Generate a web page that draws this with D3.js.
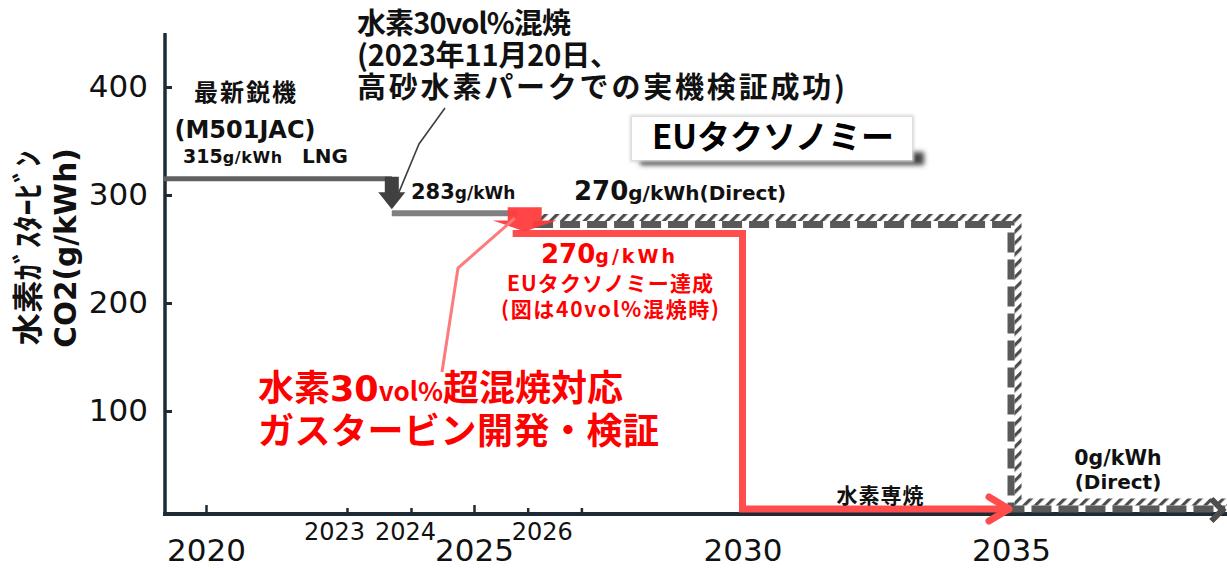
<!DOCTYPE html>
<html>
<head>
<meta charset="utf-8">
<script src="https://cdn.jsdelivr.net/npm/d3@7"></script>
<style>
  body { margin: 0; background: #fff; }
  svg { display: block; }
</style>
</head>
<body>
<svg id="chart" width="1227" height="569"></svg>
<script>
// CO2 emission intensity of hydrogen-fired gas turbines, g/kWh

const yTicks = [100, 200, 300, 400];
const majorYears = [2020, 2025, 2030, 2035];
const minorYears = [2023, 2024, 2026];
const longTickYears = [2020, 2025];
const shortTickYears = [2023, 2024, 2026, 2027];

// Latest LNG-fired model (M501JAC), then 30vol% hydrogen co-firing
const lngLine = [{ year: 2019.1, v: 315 }, { year: 2023.7, v: 315 }];
const cofireLine = [{ year: 2023.7, v: 283 }, { year: 2025.8, v: 283 }];
const cofireStep = { year: 2023.7, from: 315, to: 283 };
const taxonomyStep = { year: 2026, from: 283, to: 270 };

// Development path: 270 g/kWh (40vol% co-firing), then hydrogen-only firing
const hydrogenPath = [
  { year: 2025.72, v: 270 }, { year: 2030, v: 270 },
  { year: 2030, v: 0 }, { year: 2035, v: 0 }
];

// EU taxonomy threshold (direct emissions)
const taxonomyPath = [
  { year: 2026.1, v: 270 }, { year: 2035, v: 270 },
  { year: 2035, v: 0 }, { year: 2039, v: 0 }
];

const JP = '"Noto Sans CJK JP", sans-serif';
const LAT = '"DejaVu Sans", "Noto Sans CJK JP", sans-serif';
const AXIS = '#1c2b36';
const RED = '#ff0000';
const RED_LINE = '#ff4d4d';

// small year labels sit a little off their ticks so they do not collide
const minorLabelShift = { 2023: -13, 2024: -6, 2026: 14 };

const svg = d3.select('#chart');
const defs = svg.append('defs');

// Year scale: the drawing spaces the early years unevenly, so it is piecewise
const x = d3.scaleLinear()
  .domain([2019.1, 2020, 2023, 2024, 2025, 2035, 2039.05])
  .range([164, 206, 347, 411, 474, 1011, 1228]);
const y = d3.scaleLinear().domain([0, 440]).range([519, 43.8]);
const AXIS_Y = 514;
const AXIS_X = 165;

// levels sit just above the time axis when they reach zero
const lvl = (v, off) => Math.min(y(v) + off, AXIS_Y - 5);

// hatch pattern for the EU taxonomy band
const hatch = defs.append('pattern')
  .attr('id', 'hatch').attr('patternUnits', 'userSpaceOnUse')
  .attr('width', 8).attr('height', 8)
  .attr('patternTransform', 'rotate(45)');
hatch.append('rect').attr('width', 8).attr('height', 8).attr('fill', '#fff');
hatch.append('rect').attr('width', 3.2).attr('height', 8).attr('fill', '#4d4d4d');

const blur = defs.append('filter').attr('id', 'soft')
  .attr('x', '-20%').attr('y', '-50%').attr('width', '140%').attr('height', '200%');
blur.append('feGaussianBlur').attr('stdDeviation', 2.6);
const glow = defs.append('filter').attr('id', 'glow')
  .attr('x', '-20%').attr('y', '-50%').attr('width', '140%').attr('height', '200%');
glow.append('feGaussianBlur').attr('stdDeviation', 1.5);

// ---------- axes ----------
svg.append('line')
  .attr('x1', AXIS_X).attr('x2', AXIS_X).attr('y1', 33).attr('y2', AXIS_Y + 2)
  .attr('stroke', AXIS).attr('stroke-width', 3.5);
svg.append('line')
  .attr('x1', AXIS_X - 2).attr('x2', 1227).attr('y1', AXIS_Y).attr('y2', AXIS_Y)
  .attr('stroke', AXIS).attr('stroke-width', 4);

const yAxis = svg.append('g').attr('transform', `translate(${AXIS_X},0)`)
  .call(d3.axisLeft(y).tickValues(yTicks).tickSizeInner(-7).tickSizeOuter(0).tickPadding(17));
yAxis.select('.domain').remove();
yAxis.selectAll('.tick line').attr('stroke', AXIS).attr('stroke-width', 3);
yAxis.selectAll('.tick text')
  .attr('font-family', LAT).attr('font-size', 31).attr('fill', '#111');

function xTicks(years, len) {
  const g = svg.append('g').attr('transform', `translate(0,${AXIS_Y})`)
    .call(d3.axisBottom(x).tickValues(years).tickSizeInner(-len).tickSizeOuter(0).tickFormat(''));
  g.select('.domain').remove();
  g.selectAll('.tick line').attr('stroke', AXIS).attr('stroke-width', 2.5);
}
xTicks(longTickYears, 9);
xTicks(shortTickYears, 6);

function xLabels(years, size, pad, shift) {
  const g = svg.append('g').attr('transform', `translate(0,${AXIS_Y})`)
    .call(d3.axisBottom(x).tickValues(years).tickSize(0).tickPadding(pad).tickFormat(d3.format('d')));
  g.select('.domain').remove();
  g.selectAll('.tick text').attr('font-family', LAT).attr('font-size', size).attr('fill', '#111')
    .attr('dx', d => (shift && shift[d]) || 0);
}
xLabels(minorYears, 24, 9, minorLabelShift);
xLabels(majorYears, 31, 25);

// y-axis title
const yTitle = svg.append('g').attr('font-weight', 'bold').attr('fill', '#111');
yTitle.append('text')
  .attr('transform', 'translate(39,248) rotate(-90)')
  .attr('text-anchor', 'middle').attr('font-family', JP).attr('font-size', 31)
  .attr('textLength', 195).attr('lengthAdjust', 'spacingAndGlyphs')
  .text('水素ｶﾞｽﾀｰﾋﾞﾝ');
yTitle.append('text')
  .attr('transform', 'translate(76,248) rotate(-90)')
  .attr('text-anchor', 'middle').attr('font-family', LAT).attr('font-size', 29.5)
  .text('CO2(g/kWh)');

// ---------- EU taxonomy band ----------
const line = d3.line().x(d => d[0]).y(d => d[1]);
const taxPts = taxonomyPath.map(d => [x(d.year), lvl(d.v, -3)]);
svg.append('path')
  .attr('d', line(taxPts.map(([px, py]) => [px + 7, py - 7])))
  .attr('fill', 'none').attr('stroke', 'url(#hatch)').attr('stroke-width', 7)
  .attr('stroke-linejoin', 'miter');
svg.append('path')
  .attr('d', line(taxPts))
  .attr('fill', 'none').attr('stroke', '#595959').attr('stroke-width', 7)
  .attr('stroke-dasharray', '20 7').attr('stroke-linejoin', 'miter');
{
  const [ex, ey] = taxPts[taxPts.length - 1];
  svg.append('path')
    .attr('d', `M${ex - 14},${ey - 10}L${ex - 3},${ey + 1}L${ex - 14},${ey + 12}`)
    .attr('fill', 'none').attr('stroke', '#4d4d4d').attr('stroke-width', 6)
    .attr('stroke-linejoin', 'miter');
}

// ---------- LNG / co-firing steps ----------
svg.append('path')
  .attr('d', line(lngLine.map(d => [x(d.year), y(d.v)])))
  .attr('stroke', '#606060').attr('stroke-width', 5).attr('fill', 'none');
svg.append('path')
  .attr('d', line(cofireLine.map(d => [x(d.year), y(d.v)])))
  .attr('stroke', '#808080').attr('stroke-width', 6).attr('fill', 'none');

function blockArrow(cx, top, headTop, tip, shaftW, headW, fill, opacity) {
  const s = shaftW / 2, h = headW / 2;
  svg.append('path')
    .attr('d', `M${cx - s},${top}H${cx + s}V${headTop}H${cx + h}L${cx},${tip}L${cx - h},${headTop}H${cx - s}Z`)
    .attr('fill', fill).attr('opacity', opacity);
}
blockArrow(x(cofireStep.year), y(cofireStep.from) - 2, y(cofireStep.to) - 21,
  y(cofireStep.to) - 4, 14, 27, '#404040', 1);

// ---------- hydrogen development path ----------
const h2Pts = hydrogenPath.map(d => [x(d.year), lvl(d.v, 6)]);
svg.append('path')
  .attr('d', line(h2Pts))
  .attr('fill', 'none').attr('stroke', RED_LINE).attr('stroke-width', 7)
  .attr('stroke-linejoin', 'miter');
{
  const [ex, ey] = h2Pts[h2Pts.length - 1];
  svg.append('path')
    .attr('d', `M${ex - 22},${ey - 12}L${ex - 2},${ey}L${ex - 22},${ey + 12}`)
    .attr('fill', 'none').attr('stroke', RED_LINE).attr('stroke-width', 7)
    .attr('stroke-linecap', 'round').attr('stroke-linejoin', 'round');
}
blockArrow(x(taxonomyStep.year) - 3, y(taxonomyStep.from) - 6, y(taxonomyStep.to) - 7,
  y(taxonomyStep.to) + 4, 34, 64, '#ff3b3b', 0.95);

// ---------- leader lines ----------
svg.append('path')
  .attr('d', line([[445, 108], [419, 144], [x(cofireStep.year) + 5, y(cofireStep.to) - 16]]))
  .attr('fill', 'none').attr('stroke', '#404040').attr('stroke-width', 1.6);
svg.append('path')
  .attr('d', line([[442, 372], [458, 268], [x(taxonomyStep.year) - 13, y(taxonomyStep.to) - 9]]))
  .attr('fill', 'none').attr('stroke', '#ff7a7a').attr('stroke-width', 3);

// ---------- EU taxonomy title box ----------
svg.append('rect').attr('x', 640).attr('y', 152).attr('width', 284).attr('height', 13)
  .attr('fill', '#444').attr('filter', 'url(#soft)');
svg.append('rect').attr('x', 630).attr('y', 115).attr('width', 284).attr('height', 47)
  .attr('fill', '#d8d8d8').attr('filter', 'url(#glow)');
svg.append('rect').attr('x', 632).attr('y', 117).attr('width', 280).attr('height', 43)
  .attr('fill', '#fff');
svg.append('text').attr('x', 773).attr('y', 149).attr('text-anchor', 'middle')
  .attr('font-family', JP).attr('font-weight', 'bold').attr('font-size', 33).attr('fill', '#000')
  .attr('textLength', 242).attr('lengthAdjust', 'spacing')
  .text('EUタクソノミー');

// ---------- labels ----------
function label(px, py, parts, opts = {}) {
  const t = svg.append('text').attr('x', px).attr('y', py)
    .attr('text-anchor', opts.anchor || 'start')
    .attr('font-family', opts.family || LAT)
    .attr('font-weight', opts.weight || 'bold')
    .attr('fill', opts.fill || '#111');
  if (opts.spacing) t.attr('letter-spacing', opts.spacing);
  if (opts.width) t.attr('textLength', opts.width).attr('lengthAdjust', 'spacing');
  parts.forEach(([str, size, extra]) => {
    const s = t.append('tspan').attr('font-size', size).text(str);
    if (extra && extra.spacing) s.attr('letter-spacing', extra.spacing);
    if (extra && extra.family) s.attr('font-family', extra.family);
  });
  return t;
}

label(245, 101, [['最新鋭機', 24]], { anchor: 'middle', family: JP, width: 102 });
label(245, 138, [['(M501JAC)', 24]], { anchor: 'middle' });
label(183, 163, [['315', 19], ['g/kWh', 16, { spacing: 0.6 }]]);
label(302, 163, [['LNG', 20]]);

label(357, 34, [['水素30vol%混焼', 29]], { family: JP, width: 214 });
label(357, 66, [['(2023年11月20日、', 29]], { family: JP, width: 262 });
label(357, 98, [['高砂水素パークでの実機検証成功)', 29]], { family: JP, width: 488 });

label(411, 199, [['283', 21], ['g/kWh', 17]]);
label(574, 200, [['270', 26], ['g/kWh(Direct)', 20]]);

label(541, 263, [['270', 26], ['g/kWh', 19, { spacing: 3 }]], { fill: RED });
label(610, 291, [['EUタクソノミー達成', 21]], { anchor: 'middle', family: JP, fill: RED, width: 206 });
label(610, 317, [['(図は40vol%混焼時)', 21]], { anchor: 'middle', family: JP, fill: RED, width: 218 });

label(258, 401, [['水素', 36], ['30', 35, { family: LAT }], ['vol%', 26], ['超混焼対応', 36]],
  { family: JP, fill: RED });
label(258, 444, [['ガスタービン開発・検証', 36]], { family: JP, fill: RED, spacing: 0.5 });

label(880, 503, [['水素専焼', 21]], { anchor: 'middle', family: JP, width: 87 });
label(1118, 465, [['0g/kWh', 20.5]], { anchor: 'middle' });
label(1118, 489, [['(Direct)', 20]], { anchor: 'middle' });
</script>
</body>
</html>
